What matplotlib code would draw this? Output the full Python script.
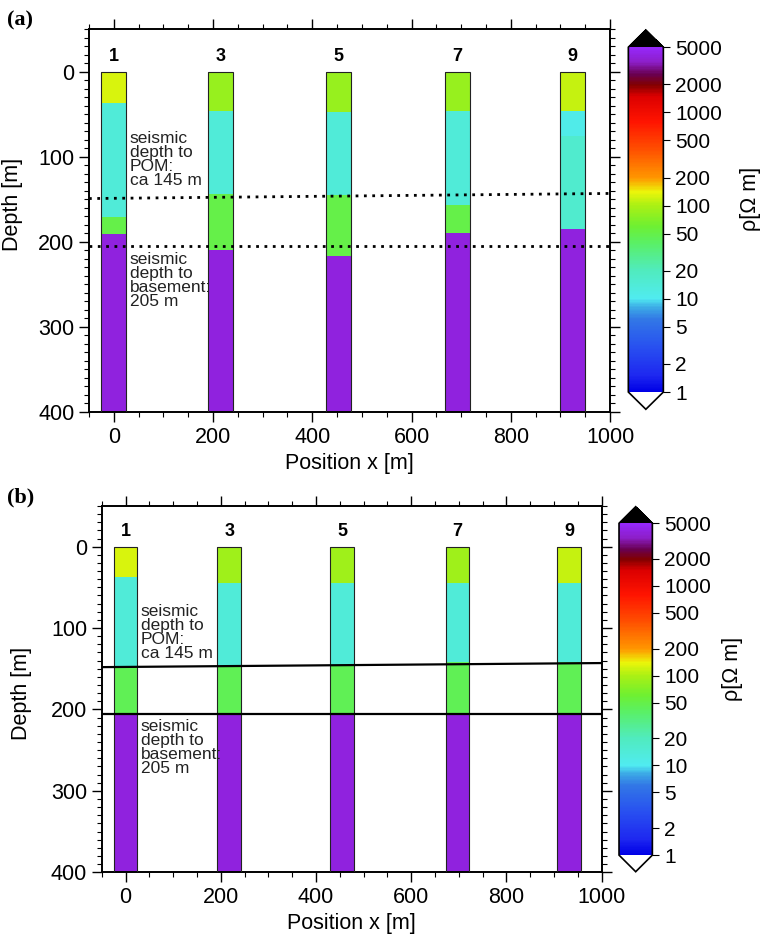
import numpy as np
import matplotlib
matplotlib.use('Agg')
import matplotlib.pyplot as plt
from matplotlib.colors import LinearSegmentedColormap, LogNorm
from matplotlib.cm import ScalarMappable
from matplotlib.ticker import MultipleLocator, FixedLocator, FixedFormatter

plt.rcParams['font.family'] = ['Liberation Sans', 'DejaVu Sans']

# well positions and names
positions_a = [0, 215, 453, 692, 925]
positions_b = [0, 218, 455, 697, 932]
well_names = ['1', '3', '5', '7', '9']

# layer tops [m] and resistivities [Ohm m], panel (a)
tops_a = [[0, 37, 171, 191],
          [0, 46, 144, 209],
          [0, 47, 145, 216],
          [0, 46, 157, 190],
          [0, 46, 76, 185]]
rho_a = [[125, 14, 50, 4000],
         [85, 14, 50, 4000],
         [85, 14, 50, 4000],
         [85, 14, 50, 4000],
         [115, 11, 16, 4000]]

# panel (b)
tops_b = [[0, 37, 147, 205],
          [0, 45, 147, 205],
          [0, 45, 147, 205],
          [0, 45, 142, 205],
          [0, 45, 142, 205]]
rho_b = [[125, 14, 45, 4000],
         [90, 14, 45, 4000],
         [90, 14, 45, 4000],
         [90, 14, 45, 4000],
         [115, 14, 45, 4000]]

max_depth = 400
# seismic horizons: depth at left / right edge
pom_a = [149, 143]
base_a = [205, 205]
pom_b = [148, 143]
base_b = [205, 205]

cbar_ticks = [1, 2, 5, 10, 20, 50, 100, 200, 500, 1000, 2000, 5000]

# colour scale (log resistivity)
nodes = [(1, (0, 0, 230)), (1.5, (30, 40, 240)), (3, (40, 80, 240)), (6, (50, 120, 230)),
         (8, (60, 170, 230)), (10, (80, 235, 240)), (20, (80, 235, 190)), (40, (90, 240, 100)),
         (60, (110, 240, 50)), (100, (170, 240, 20)), (140, (235, 245, 10)), (200, (255, 150, 0)),
         (400, (255, 80, 0)), (800, (255, 20, 0)), (1500, (220, 0, 0)), (2000, (130, 0, 0)),
         (2600, (105, 0, 80)), (3500, (140, 30, 200)), (5000, (150, 40, 250))]
lmax = np.log10(5000)
cmap = LinearSegmentedColormap.from_list(
    'rho', [(np.log10(v) / lmax, tuple(c / 255 for c in col)) for v, col in nodes])
cmap.set_over('black')
cmap.set_under('white')
norm = LogNorm(1, 5000)

fig = plt.figure(figsize=(7.63, 9.34), dpi=100)


def draw_panel(ax, cax, positions, tops, rhos, pom, base, dotted, tag, tag_y, ylab_y, ylab_x, cb_x):
    width = 50
    for x, t, r in zip(positions, tops, rhos):
        bounds = t + [max_depth]
        for i in range(len(r)):
            ax.bar(x, bounds[i + 1] - bounds[i], bottom=bounds[i], width=width,
                   color=cmap(norm(r[i])), edgecolor='none', zorder=2)
        ax.bar(x, max_depth - t[0], bottom=t[0], width=width, fill=False,
               edgecolor='#222222', linewidth=0.8, zorder=3)
    for x, n in zip(positions, well_names):
        ax.text(x, -8, n, ha='center', va='bottom', fontsize=13, fontweight='bold')

    if dotted:
        kw = dict(color='black', linewidth=2, linestyle=(0, (1, 2)), zorder=4)
    else:
        kw = dict(color='black', linewidth=1.6, zorder=4)
    ax.plot([-50, 1000], pom, **kw)
    ax.plot([-50, 1000], base, **kw)

    ax.text(32, 70, 'seismic\ndepth to\nPOM:\nca 145 m', fontsize=12.5, va='top',
            linespacing=0.92, color='#222222', zorder=5)
    ax.text(32, 212, 'seismic\ndepth to\nbasement:\n205 m', fontsize=12.5, va='top',
            linespacing=0.92, color='#222222', zorder=5)

    ax.set_xlim(-50, 1000)
    ax.set_ylim(max_depth, -50)
    ax.xaxis.set_major_locator(MultipleLocator(200))
    ax.xaxis.set_minor_locator(MultipleLocator(50))
    ax.yaxis.set_major_locator(FixedLocator([0, 100, 200, 300, 400]))
    ax.yaxis.set_minor_locator(MultipleLocator(10))
    ax.tick_params(which='both', direction='out', top=True, right=True, labelsize=15.5)
    ax.tick_params(which='major', length=7, width=1)
    ax.tick_params(which='minor', length=3.5, width=0.8)
    for s in ax.spines.values():
        s.set_linewidth(1.4)
    ax.set_xlabel('Position x [m]', fontsize=15.5, labelpad=4)
    ax.set_ylabel('Depth [m]', fontsize=15.5)
    ax.yaxis.set_label_coords(ylab_x, ylab_y)

    cb = fig.colorbar(ScalarMappable(norm=norm, cmap=cmap), cax=cax, extend='both',
                      extendfrac=0.05)
    cb.outline.set_linewidth(1.2)
    cax.yaxis.set_major_locator(FixedLocator(cbar_ticks))
    cax.yaxis.set_major_formatter(FixedFormatter([str(v) for v in cbar_ticks]))
    cax.yaxis.set_minor_locator(FixedLocator([]))
    cax.tick_params(which='major', length=5, width=0.8, labelsize=15, direction='out')
    cb.set_label('ρ[Ω m]', fontsize=15.5)
    cax.yaxis.set_label_coords(cb_x, 0.56)

    fig.text(0.009, tag_y, tag, fontsize=16, fontweight='bold',
             family='Liberation Serif', va='top')


ax_a = fig.add_axes([0.1166, 0.5589, 0.683, 0.4097])
cax_a = fig.add_axes([0.8235, 0.5618, 0.0459, 0.4061])
draw_panel(ax_a, cax_a, positions_a, tops_a, rho_a, pom_a, base_a, True, '(a)',
           1 - 10 / 934, 0.543, -0.127, 3.2)

ax_b = fig.add_axes([0.1333, 0.0661, 0.6553, 0.3922])
cax_b = fig.add_axes([0.8113, 0.0667, 0.0437, 0.3908])
draw_panel(ax_b, cax_b, positions_b, tops_b, rho_b, pom_b, base_b, False, '(b)',
           1 - 487 / 934, 0.487, -0.14, 3.1)

fig.savefig('out.png', dpi=100)
